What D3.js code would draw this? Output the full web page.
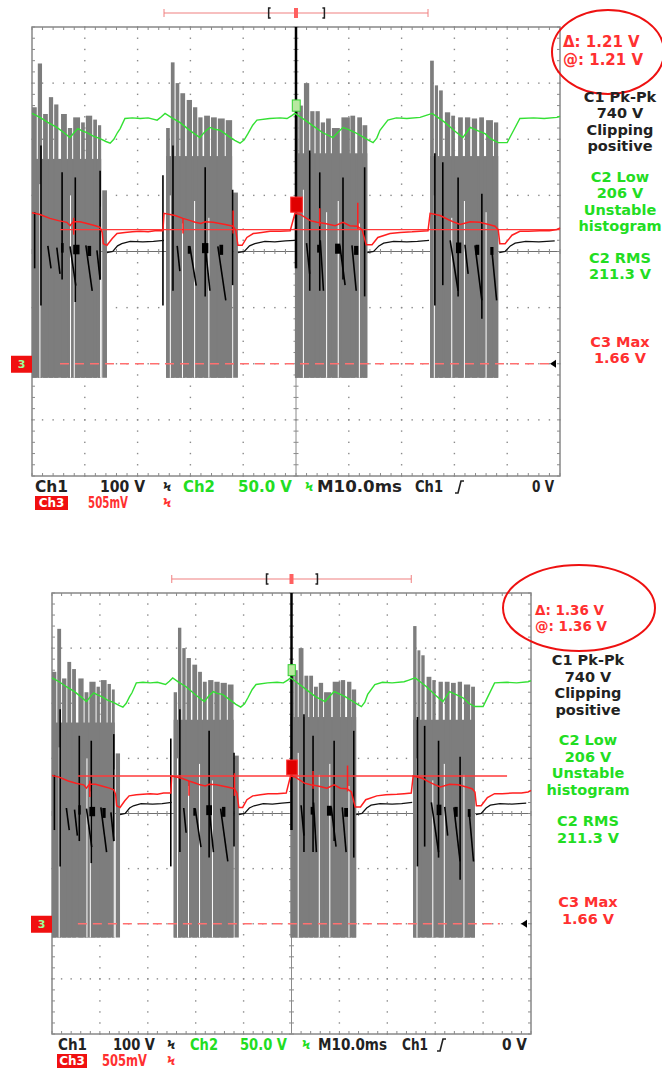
<!DOCTYPE html>
<html>
<head>
<meta charset="utf-8">
<script src="https://cdn.jsdelivr.net/npm/d3@7/dist/d3.min.js"></script>
<style>
  body{margin:0;background:#fff}
  svg{display:block}
  text{font-family:"DejaVu Sans",sans-serif;font-weight:bold}
</style>
</head>
<body>
<div id="chart"></div>
<script>
// all traces in screen divisions: x 0..10 (10 ms/div), y -4..4

// Ch1 envelope body of each burst [start, end, top]
const ch1Body = [[0.00,1.31,1.65],[2.54,3.79,1.70],[4.98,6.35,1.75],[7.54,8.83,1.70]];
// Ch1 envelope spikes [start, end, top]
const ch1Spikes = [
  [0.00,0.09,2.57],[0.11,0.19,3.35],[0.21,0.30,2.45],[0.32,0.40,2.75],[0.42,0.50,2.62],
  [0.55,0.66,2.45],[0.68,0.76,2.20],[0.78,0.91,2.39],[0.93,1.00,2.30],[1.02,1.14,2.42],
  [1.16,1.23,2.35],[1.25,1.31,2.25],[1.33,1.42,1.09],
  [2.54,2.61,2.20],[2.63,2.70,3.37],[2.72,2.79,3.00],[2.81,2.90,2.82],[2.93,3.03,2.70],
  [3.05,3.13,2.57],[3.15,3.23,2.39],[3.26,3.37,2.42],[3.39,3.50,2.39],[3.52,3.65,2.37],
  [3.67,3.79,2.34],[3.81,3.90,1.05],
  [4.98,5.05,2.70],[5.06,5.13,2.60],[5.15,5.25,3.00],[5.27,5.35,2.50],[5.37,5.45,2.50],
  [5.47,5.55,2.30],[5.57,5.66,2.37],[5.68,5.83,2.20],[5.86,6.02,2.39],[6.03,6.12,2.42],
  [6.16,6.25,2.39],[6.26,6.35,2.25],
  [7.54,7.61,3.40],[7.63,7.69,2.96],[7.71,7.78,2.87],[7.82,7.92,2.48],[7.94,8.01,2.42],
  [8.07,8.16,2.39],[8.20,8.30,2.39],[8.33,8.43,2.37],[8.47,8.56,2.39],[8.60,8.73,2.34],
  [8.75,8.83,2.30]
];
const ch1Floor = -2.25;
// thin white gaps through the envelope [x, top, bottom]
const ch1Gaps = [
  [0.15,1.2,-2.25],[0.73,1.0,-2.25],[0.80,0.4,-2.25],[1.30,0.8,-2.25],
  [2.62,1.0,-2.25],[2.85,0.5,-2.25],[3.08,0.9,-2.25],[3.35,0.6,-2.25],
  [5.14,1.1,-2.25],[5.58,0.7,-2.25],[5.80,0.9,-2.25],[6.20,0.5,-2.25],
  [7.62,1.0,-2.25],[7.95,0.6,-2.25],[8.19,0.9,-2.25],[8.60,0.7,-2.25]
];

// Ch1 last acquisition: vertical strokes [x, top, bottom]
const ch1Strokes = [
  [0.05,0.70,-0.30],[0.17,1.89,-0.96],[0.57,1.41,-0.50],[0.82,1.32,-0.90],[1.29,1.44,-0.50],
  [2.48,1.36,-0.96],[2.67,1.89,-0.70],[3.28,1.50,-0.80],[3.80,1.10,-0.60],
  [5.26,1.80,-0.70],[5.45,1.41,-0.70],[5.89,1.32,-0.50],[6.30,1.50,-0.80],
  [7.63,1.75,-0.96],[7.78,1.59,-0.60],[8.07,1.32,-0.80],[8.52,1.03,-1.20]
];
// trigger spike
const ch1Trigger = [5.0, 4.0, -0.3];
// Ch1 decays inside bursts [x0, y0, x1, y1]
const ch1Decays = [
  [0.47,0.07,0.53,-0.40],[0.72,0.09,0.83,-0.61],[1.02,0.11,1.14,-0.70],[1.23,0.02,1.29,-0.50],
  [0.30,0.10,0.36,-0.30],
  [2.99,0.09,3.11,-0.61],[3.28,0.11,3.37,-0.70],[3.52,0.09,3.67,-0.87],[2.75,0.10,2.80,-0.35],
  [5.46,0.20,5.52,-0.70],[5.83,0.11,5.93,-0.60],[6.06,0.11,6.14,-0.70],[5.20,0.15,5.26,-0.40],
  [7.92,0.20,8.07,-0.70],[8.39,0.11,8.52,-0.87],[8.71,0.02,8.80,-0.87],[8.20,0.12,8.26,-0.40]
];
// Ch1 dense blobs near zero [start, end, top, bottom]
const ch1Blobs = [
  [0.78,0.90,0.12,-0.05],[1.05,1.12,0.10,-0.08],[0.55,0.60,0.15,-0.02],
  [3.22,3.34,0.15,-0.03],[3.55,3.62,0.12,-0.06],[2.95,3.00,0.10,-0.04],
  [5.74,5.84,0.14,-0.04],[6.10,6.18,0.10,-0.06],[5.40,5.46,0.12,-0.02],
  [8.03,8.13,0.16,-0.03],[8.40,8.47,0.12,-0.06],[8.68,8.74,0.08,-0.06]
];
// Ch1 average between bursts
const ch1Rest = [
  [[1.42,-0.02],[1.53,0.0],[1.62,0.10],[1.70,0.14],[1.86,0.18],[2.10,0.17],[2.30,0.18],[2.50,0.20]],
  [[3.90,-0.02],[4.02,0.0],[4.12,0.10],[4.22,0.14],[4.41,0.18],[4.60,0.17],[4.80,0.19],[4.98,0.20]],
  [[6.35,-0.02],[6.47,0.0],[6.57,0.10],[6.66,0.15],[6.85,0.18],[7.10,0.17],[7.30,0.18],[7.52,0.20]],
  [[8.85,-0.02],[8.96,0.0],[9.06,0.10],[9.15,0.15],[9.35,0.18],[9.60,0.17],[9.90,0.19]]
];

// Ch2 (green)
const ch2 = [
  [0,2.46],[0.15,2.39],[0.3,2.3],[0.47,2.21],[0.6,2.12],[0.72,2.03],[0.8,2.12],[0.87,2.19],
  [0.95,2.15],[1.04,2.12],[1.15,2.06],[1.29,2.01],[1.4,1.96],[1.48,1.93],[1.55,2.0],[1.62,2.12],
  [1.67,2.19],[1.76,2.37],[1.9,2.38],[2.05,2.37],[2.2,2.38],[2.37,2.34],[2.45,2.4],[2.52,2.46],
  [2.65,2.38],[2.8,2.30],[3.0,2.15],[3.18,2.03],[3.28,2.14],[3.37,2.21],[3.45,2.18],[3.56,2.16],
  [3.7,2.07],[3.84,1.98],[3.94,1.93],[4.02,1.99],[4.09,2.10],[4.18,2.25],[4.26,2.34],[4.5,2.37],
  [4.7,2.38],[4.83,2.37],[4.92,2.42],[4.98,2.46],[5.08,2.40],[5.17,2.34],[5.35,2.22],[5.5,2.12],
  [5.7,2.03],[5.8,2.13],[5.89,2.21],[6.0,2.17],[6.12,2.12],[6.25,2.05],[6.38,1.98],[6.46,1.94],
  [6.53,2.02],[6.59,2.16],[6.74,2.34],[6.9,2.38],[7.1,2.37],[7.35,2.39],[7.45,2.42],[7.58,2.46],
  [7.7,2.38],[7.82,2.30],[8.0,2.15],[8.16,2.03],[8.23,2.12],[8.30,2.21],[8.45,2.15],[8.58,2.10],
  [8.7,2.0],[8.83,1.94],[9.0,1.94],[9.1,2.12],[9.24,2.37],[9.5,2.38],[9.7,2.37],[9.94,2.39],[10,2.41]
];

// Ch3 (red)
const ch3 = [
  [0,0.69],[0.15,0.66],[0.34,0.59],[0.5,0.55],[0.66,0.52],[0.72,0.46],[0.78,0.53],[0.91,0.53],
  [1.04,0.50],[1.2,0.46],[1.29,0.43],[1.33,0.34],[1.35,0.14],[1.42,0.11],[1.52,0.23],[1.61,0.32],
  [1.76,0.34],[1.9,0.35],[2.05,0.36],[2.2,0.35],[2.33,0.37],[2.48,0.37],[2.5,0.68],[2.71,0.64],
  [2.86,0.59],[3.0,0.55],[3.09,0.52],[3.2,0.5],[3.28,0.53],[3.43,0.52],[3.66,0.48],[3.81,0.45],
  [3.86,0.37],[3.9,0.11],[3.98,0.11],[4.07,0.25],[4.19,0.32],[4.35,0.34],[4.51,0.36],[4.7,0.36],
  [4.89,0.37],[4.98,0.68],[5.08,0.66],[5.27,0.55],[5.4,0.52],[5.55,0.50],[5.74,0.46],[5.89,0.52],
  [6.02,0.46],[6.16,0.45],[6.25,0.39],[6.33,0.12],[6.44,0.12],[6.55,0.25],[6.78,0.32],[6.97,0.34],
  [7.2,0.35],[7.35,0.36],[7.5,0.37],[7.54,0.68],[7.73,0.64],[7.88,0.57],[8.0,0.52],[8.11,0.48],
  [8.3,0.53],[8.48,0.52],[8.65,0.48],[8.77,0.45],[8.83,0.39],[8.86,0.14],[8.96,0.14],[9.09,0.29],
  [9.24,0.36],[9.4,0.36],[9.62,0.37],[9.8,0.37],[9.94,0.39],[10,0.42]
];
const ch3Spikes = [[0.79,0.60,0.30],[2.86,0.59,0.32],[3.81,0.73,0.32],[5.45,0.77,0.45],[6.17,0.87,0.40]];
const ch3Ground = -2.0;

// measurement readouts
const readouts = [
  {color:'#222', lines:['C1 Pk-Pk','740 V','Clipping','positive']},
  {color:'#22dd22', lines:['C2 Low','206 V','Unstable','histogram']},
  {color:'#22dd22', lines:['C2 RMS','211.3 V']},
  {color:'#ff3030', lines:['C3 Max','1.66 V']}
];
const scaleLabels = ['Ch1','100 V','Ch2','50.0 V','M10.0ms','Ch1','0 V'];
const scaleColors = ['#222','#222','#22dd22','#22dd22','#222','#222','#222'];

// the two captures
const captures = [
  {cursor:0.39, delta:'1.21 V'},
  {cursor:0.68, delta:'1.36 V'}
];

const layouts = [
  {x0:32, x1:560, y0:27, y1:476, cursorFrom:0.53, cursorTo:10, dashTo:9.81,
   deltaX:563, deltaY:[42,60], deltaSize:15, ell:[608,52,56,42],
   readX:620, readY:[97,177,258,342], readStep:16.4,
   labelY:487, label2Y:503,
   labels:[[35,33],[100,45],[183,32],[238,54],[317,85],[415,28],[532,22]],
   bw:[163,305], edgeX:455, ch3Box:[35,68], mv:[88,40]},
  {x0:52, x1:531, y0:593, y1:1034, cursorFrom:0.54, cursorTo:9.5, dashTo:9.35,
   deltaX:535, deltaY:[610,626], deltaSize:13.5, ell:[579,608,76,43],
   readX:588, readY:[660,740,821,902], readStep:16.5,
   labelY:1045, label2Y:1061,
   labels:[[58,29],[113,42],[190,28],[240,47],[318,69],[402,26],[502,25]],
   bw:[167,302], edgeX:437, ch3Box:[57,87], mv:[102,45]}
];

const svg = d3.select('#chart').append('svg')
  .attr('width', 662).attr('height', 1072);

captures.forEach((c, i) => drawScreen(svg, c, layouts[i]));

function drawScreen(svg, cap, L){
  const x = d3.scaleLinear().domain([0,10]).range([L.x0, L.x1]);
  const y = d3.scaleLinear().domain([-4,4]).range([L.y1, L.y0]);
  const g = svg.append('g');
  const minorX = d3.range(0, 10.001, 0.2);
  const minorY = d3.range(-4, 4.001, 0.2);

  // graticule dots
  const dots = [];
  [1,2,3,4,6,7,8,9].forEach(i => minorY.forEach(v => dots.push([i, v])));
  [-3,-2,-1,1,2,3].forEach(j => minorX.forEach(t => dots.push([t, j])));
  g.selectAll('rect.dot').data(dots).join('rect').classed('dot', true)
    .attr('x', d => x(d[0]) - 0.7).attr('y', d => y(d[1]) - 0.7)
    .attr('width', 1.4).attr('height', 1.4).attr('fill', '#8a8a8a');

  // centre lines with ticks
  g.append('line').attr('x1', x(5)).attr('x2', x(5)).attr('y1', L.y0).attr('y2', L.y1)
    .attr('stroke', '#8a8a8a').attr('stroke-width', 1);
  g.append('line').attr('x1', L.x0).attr('x2', L.x1).attr('y1', y(0)).attr('y2', y(0))
    .attr('stroke', '#707070').attr('stroke-width', 1);
  const ticks = [];
  minorY.forEach(v => {
    ticks.push([x(5)-2.5, y(v), x(5)+2.5, y(v)]);
    ticks.push([L.x0, y(v), L.x0+3, y(v)]);
    ticks.push([L.x1-3, y(v), L.x1, y(v)]);
  });
  minorX.forEach(t => {
    ticks.push([x(t), y(0)-2.5, x(t), y(0)+2.5]);
    ticks.push([x(t), L.y0, x(t), L.y0+3]);
    ticks.push([x(t), L.y1-3, x(t), L.y1]);
  });
  g.selectAll('line.tick').data(ticks).join('line').classed('tick', true)
    .attr('x1', d => d[0]).attr('y1', d => d[1]).attr('x2', d => d[2]).attr('y2', d => d[3])
    .attr('stroke', '#8a8a8a').attr('stroke-width', 1);
  g.append('rect').attr('x', L.x0).attr('y', L.y0)
    .attr('width', L.x1 - L.x0).attr('height', L.y1 - L.y0)
    .attr('fill', 'none').attr('stroke', '#888').attr('stroke-width', 1.5);

  // Ch1 envelope
  g.selectAll('rect.body').data(ch1Body).join('rect').classed('body', true)
    .attr('x', d => x(d[0])).attr('width', d => x(d[1]) - x(d[0]))
    .attr('y', d => y(d[2])).attr('height', d => y(ch1Floor) - y(d[2]))
    .attr('fill', '#7d7d7d');
  g.selectAll('rect.ch1').data(ch1Spikes).join('rect').classed('ch1', true)
    .attr('x', d => x(d[0])).attr('width', d => x(d[1]) - x(d[0]))
    .attr('y', d => y(d[2])).attr('height', d => y(ch1Floor) - y(d[2]))
    .attr('fill', '#7d7d7d');
  g.selectAll('line.gap').data(ch1Gaps).join('line').classed('gap', true)
    .attr('x1', d => x(d[0])).attr('x2', d => x(d[0]))
    .attr('y1', d => y(d[1])).attr('y2', d => y(d[2]))
    .attr('stroke', '#fff').attr('stroke-width', 1);

  // Ch1 black strokes
  g.selectAll('line.stroke').data(ch1Strokes).join('line').classed('stroke', true)
    .attr('x1', d => x(d[0])).attr('x2', d => x(d[0]))
    .attr('y1', d => y(d[1])).attr('y2', d => y(d[2]))
    .attr('stroke', '#000').attr('stroke-width', 1.6);
  g.append('line')
    .attr('x1', x(ch1Trigger[0])).attr('x2', x(ch1Trigger[0]))
    .attr('y1', y(ch1Trigger[1])).attr('y2', y(ch1Trigger[2]))
    .attr('stroke', '#000').attr('stroke-width', 2.5);
  g.selectAll('line.decay').data(ch1Decays).join('line').classed('decay', true)
    .attr('x1', d => x(d[0])).attr('y1', d => y(d[1]))
    .attr('x2', d => x(d[2])).attr('y2', d => y(d[3]))
    .attr('stroke', '#000').attr('stroke-width', 1.6);
  g.selectAll('rect.blob').data(ch1Blobs).join('rect').classed('blob', true)
    .attr('x', d => x(d[0])).attr('width', d => x(d[1]) - x(d[0]))
    .attr('y', d => y(d[2])).attr('height', d => y(d[3]) - y(d[2]))
    .attr('fill', '#000');

  const line = d3.line().x(d => x(d[0])).y(d => y(d[1]));
  g.selectAll('path.rest').data(ch1Rest).join('path').classed('rest', true)
    .attr('d', line).attr('fill', 'none').attr('stroke', '#111').attr('stroke-width', 1.3);

  // Ch2
  g.append('path').datum(ch2).attr('d', line)
    .attr('fill', 'none').attr('stroke', '#33e033').attr('stroke-width', 1.4);

  // Ch3 cursor lines
  g.append('line').attr('x1', x(L.cursorFrom)).attr('x2', x(L.cursorTo))
    .attr('y1', y(cap.cursor)).attr('y2', y(cap.cursor))
    .attr('stroke', '#ff3a3a').attr('stroke-width', 1.4);
  g.append('line').attr('x1', x(L.cursorFrom)).attr('x2', x(L.dashTo))
    .attr('y1', y(ch3Ground)).attr('y2', y(ch3Ground))
    .attr('stroke', '#ff7070').attr('stroke-width', 1.3).attr('stroke-dasharray', '9 6');

  // Ch3
  g.append('path').datum(ch3).attr('d', line)
    .attr('fill', 'none').attr('stroke', '#ff1f1f').attr('stroke-width', 1.5);
  g.selectAll('line.ch3s').data(ch3Spikes).join('line').classed('ch3s', true)
    .attr('x1', d => x(d[0])).attr('x2', d => x(d[0]))
    .attr('y1', d => y(d[1])).attr('y2', d => y(d[2]))
    .attr('stroke', '#ff1f1f').attr('stroke-width', 1.5);

  // markers
  g.append('rect').attr('x', x(4.9)).attr('y', y(0.97))
    .attr('width', x(5.12) - x(4.9)).attr('height', y(0.7) - y(0.97))
    .attr('fill', '#e00000').attr('stroke', '#ff3030');
  g.append('rect').attr('x', x(4.93)).attr('y', y(2.7))
    .attr('width', x(5.08) - x(4.93)).attr('height', y(2.5) - y(2.7))
    .attr('fill', '#b8e8a0').attr('stroke', '#33d033');
  const gy = y(ch3Ground);
  g.append('rect').attr('x', L.x0 - 21).attr('y', gy - 8).attr('width', 21).attr('height', 17)
    .attr('fill', '#f01010');
  g.append('text').attr('x', L.x0 - 10.5).attr('y', gy + 1).attr('text-anchor', 'middle')
    .attr('dominant-baseline', 'central').attr('font-size', 11).attr('fill', '#9f9').text('3');
  g.append('path')
    .attr('d', `M${L.x1-10},${gy}L${L.x1-4},${gy-4}L${L.x1-4},${gy+4}Z`)
    .attr('fill', '#000');

  // trigger position bar
  const by = L.y0 - 14;
  g.append('line').attr('x1', x(2.5)).attr('x2', x(7.5)).attr('y1', by).attr('y2', by)
    .attr('stroke', '#f08080').attr('stroke-width', 1.2);
  [2.5, 7.5].forEach(t => g.append('line').attr('x1', x(t)).attr('x2', x(t))
    .attr('y1', by - 4).attr('y2', by + 4).attr('stroke', '#f08080'));
  g.append('path').attr('d', `M${x(4.52)},${by-5}h-2v10h2`)
    .attr('fill', 'none').attr('stroke', '#222').attr('stroke-width', 1.5);
  g.append('path').attr('d', `M${x(5.5)},${by-5}h2v10h-2`)
    .attr('fill', 'none').attr('stroke', '#222').attr('stroke-width', 1.5);
  g.append('rect').attr('x', x(5) - 2).attr('y', by - 5).attr('width', 4).attr('height', 10)
    .attr('fill', '#ff6060');

  // cursor readout and ellipse
  g.append('ellipse').attr('cx', L.ell[0]).attr('cy', L.ell[1]).attr('rx', L.ell[2]).attr('ry', L.ell[3])
    .attr('fill', 'none').attr('stroke', '#ee1111').attr('stroke-width', 2);
  ['Δ: ', '@: '].forEach((s, k) => g.append('text')
    .attr('x', L.deltaX).attr('y', L.deltaY[k]).attr('dominant-baseline', 'central')
    .attr('font-size', L.deltaSize).attr('fill', '#ff3030').text(s + cap.delta));

  // measurement readouts
  readouts.forEach((r, k) => r.lines.forEach((s, n) => g.append('text')
    .attr('x', L.readX).attr('y', L.readY[k] + n * L.readStep)
    .attr('text-anchor', 'middle').attr('dominant-baseline', 'central')
    .attr('font-size', 14.5).attr('fill', r.color).text(s)));

  // scale labels
  scaleLabels.forEach((s, k) => g.append('text')
    .attr('x', L.labels[k][0]).attr('y', L.labelY).attr('dominant-baseline', 'central')
    .attr('font-size', 15).attr('fill', scaleColors[k])
    .attr('textLength', L.labels[k][1]).attr('lengthAdjust', 'spacingAndGlyphs').text(s));
  L.bw.forEach((bx, k) => g.append('text').attr('x', bx).attr('y', L.labelY)
    .attr('dominant-baseline', 'central').attr('font-size', 12)
    .attr('fill', k ? '#22dd22' : '#222').text('Ϟ'));
  g.append('path')
    .attr('d', `M${L.edgeX},${L.labelY+6}h3l3,-12h3`)
    .attr('fill', 'none').attr('stroke', '#222').attr('stroke-width', 1.6);
  g.append('rect').attr('x', L.ch3Box[0]).attr('y', L.label2Y - 7)
    .attr('width', L.ch3Box[1] - L.ch3Box[0]).attr('height', 14).attr('fill', '#f01010');
  g.append('text').attr('x', (L.ch3Box[0] + L.ch3Box[1]) / 2).attr('y', L.label2Y)
    .attr('text-anchor', 'middle').attr('dominant-baseline', 'central')
    .attr('font-size', 12).attr('fill', '#fff').text('Ch3');
  g.append('text').attr('x', L.mv[0]).attr('y', L.label2Y).attr('dominant-baseline', 'central')
    .attr('font-size', 15).attr('fill', '#ff3030')
    .attr('textLength', L.mv[1]).attr('lengthAdjust', 'spacingAndGlyphs').text('505mV');
  g.append('text').attr('x', L.bw[0]).attr('y', L.label2Y)
    .attr('dominant-baseline', 'central').attr('font-size', 12)
    .attr('fill', '#ff3030').text('Ϟ');
}
</script>
</body>
</html>
